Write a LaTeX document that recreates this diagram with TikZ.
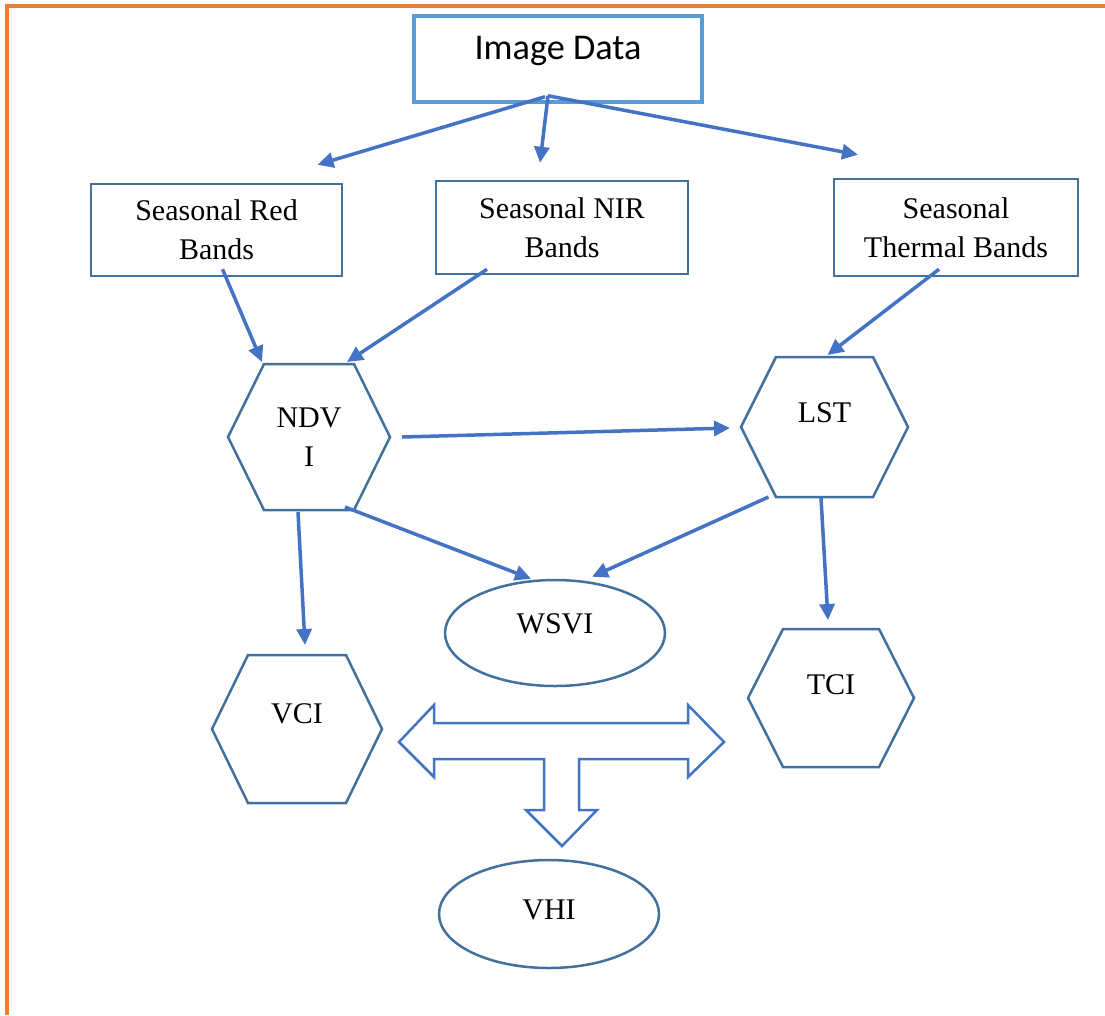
\documentclass[tikz,border=0pt]{standalone}
\usepackage{fontspec}
\setmainfont{Liberation Serif}
\newfontfamily\calibrifont{Carlito}
\usetikzlibrary{positioning}
\usetikzlibrary{calc}
\usetikzlibrary{shapes.geometric}
\usetikzlibrary{arrows.meta}

\definecolor{boxblue}{HTML}{41719C}
\definecolor{imgblue}{HTML}{5B9BD5}
\definecolor{arrowblue}{HTML}{4472C4}
\definecolor{frameorange}{HTML}{ED7D31}

\newcommand{\pxu}{0.4pt}
\newcommand{\hexframe}[2]{\draw[hexline] (#1.west) -- ($(#1.north west)+(#2,0)$) -- ($(#1.north east)+(-#2,0)$) -- (#1.east) -- ($(#1.south east)+(-#2,0)$) -- ($(#1.south west)+(#2,0)$) -- cycle;}

\begin{document}
\begin{tikzpicture} [x=\pxu, y=-\pxu,
  font=\fontsize{12}{15.5}\selectfont,
  textbase/.style={text height=8pt, text depth=#1},
  band/.style={draw=boxblue, line width=1pt, align=center, inner sep=0pt},
  hexa/.style={inner sep=0pt, outer sep=0pt, align=center},
  hexline/.style={draw=boxblue, line width=1pt},
  oval/.style={ellipse, draw=boxblue, line width=1pt, inner sep=0pt},
  flow/.style={draw=arrowblue, line width=1.4pt, -{Triangle[length=6.4pt, width=6pt]}},
  bigarrow/.style={draw=arrowblue, line width=1pt, line join=miter}]

\useasboundingbox (0,0) rectangle (1105,1015);
\draw[frameorange, line width=1.3pt] (7,1015) -- (7,6) -- (1105,6);

\node [draw=imgblue, line width=1.4pt, minimum width=288*\pxu, minimum height=86*\pxu, font=\calibrifont\fontsize{14.5}{17}\selectfont, textbase=8pt] (img) at (558,59) {Image Data};

\node [band, minimum width=251*\pxu, minimum height=92*\pxu] (red) at (216.5,230) {Seasonal Red\\Bands};
\node [band, minimum width=252*\pxu, minimum height=93*\pxu] (nir) at (562,227.5) {Seasonal NIR\\Bands};
\node [band, minimum width=244*\pxu, minimum height=97*\pxu] (thermal) at (956,227.5) {Seasonal\\Thermal Bands};

\node [hexa, minimum width=162*\pxu, minimum height=146*\pxu] (ndvi) at (309,437) {NDV\\I};
\node [hexa, minimum width=167*\pxu, minimum height=140*\pxu, textbase=12pt] (lst) at (824.5,427) {LST};
\node [hexa, minimum width=170*\pxu, minimum height=148*\pxu, textbase=12.8pt] (vci) at (297,729) {VCI};
\node [hexa, minimum width=166*\pxu, minimum height=138*\pxu, textbase=11.2pt] (tci) at (831,698) {TCI};
\hexframe{ndvi}{36}
\hexframe{lst}{35}
\hexframe{vci}{36}
\hexframe{tci}{35}

\node [oval, minimum width=220*\pxu, minimum height=106*\pxu, textbase=8pt] (wsvi) at (555,633) {WSVI};
\node [oval, minimum width=220*\pxu, minimum height=108*\pxu, textbase=4pt] (vhi) at (549,914) {VHI};

\draw[flow] ($(img.south)+(-13,-7)$) -- ($(red.north)+(101,-18)$);
\draw[flow] ($(img.south)+(-10,-8)$) -- ($(nir.north)+(-22,-17)$);
\draw[flow] ($(img.south)+(-10,-8)$) -- ($(thermal.north)+(-98,-23)$);

\draw[flow] ($(red.south)+(6,-8)$) -- ($(ndvi.north)+(-47,-2)$);
\draw[flow] ($(nir.south)+(-75,-6)$) -- ($(ndvi.north)+(38,-2)$);
\draw[flow] ($(thermal.south)+(-17,-8)$) -- ($(lst.north)+(3,-2)$);

\draw[flow] ($(ndvi.east)+(12,0)$) -- ($(lst.west)+(-11,1)$);
\draw[flow] ($(ndvi.south)+(36,-3)$) -- ($(wsvi.north)+(-24,0)$);
\draw[flow] ($(lst.south)+(-56,0)$) -- ($(wsvi.north)+(37,-2)$);
\draw[flow] ($(ndvi.south)+(-11,2)$) -- ($(vci.north)+(8,-10)$);
\draw[flow] ($(lst.south)+(-3.5,1)$) -- ($(tci.north)+(-3,-9)$);

\draw[bigarrow] (399,742) -- (434,705) -- (434,723) -- (688,723) -- (688,705) -- (724,742)
  -- (688,777) -- (688,759) -- (579,759) -- (579,810) -- (597,810) -- (562,846)
  -- (526,810) -- (544,810) -- (544,759) -- (434,759) -- (434,777) -- cycle;

\end{tikzpicture}
\end{document}
